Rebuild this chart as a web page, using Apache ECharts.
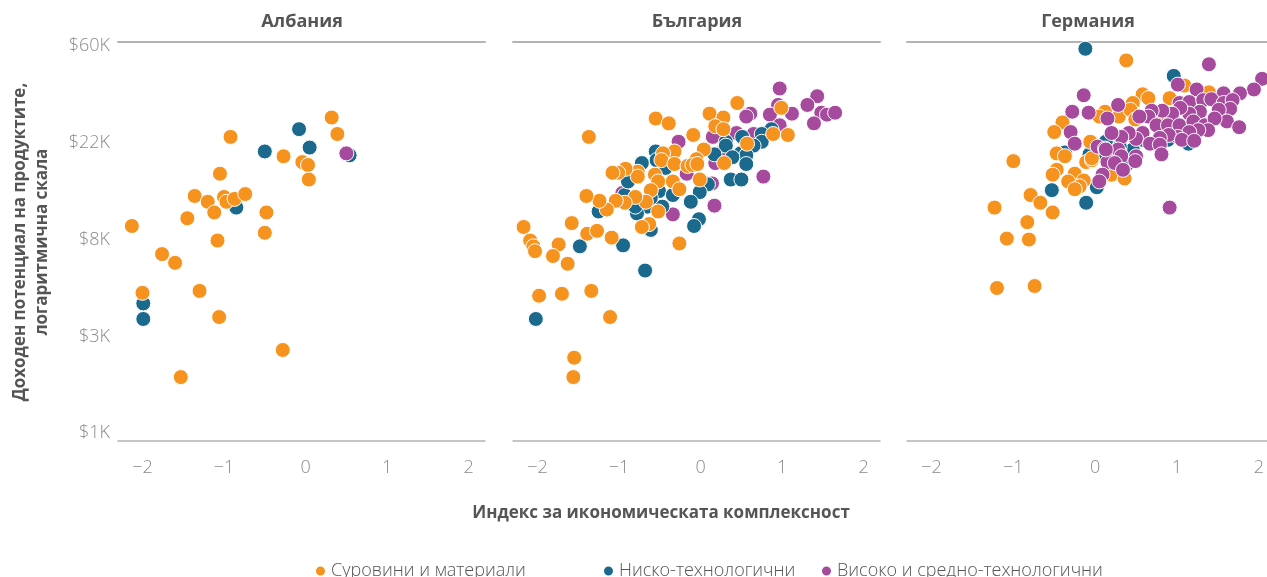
<!DOCTYPE html>
<html>
<head>
<meta charset="utf-8">
<script src="https://cdn.jsdelivr.net/npm/echarts@6/dist/echarts.min.js"></script>
<style>
  html, body { margin: 0; padding: 0; background: #fff; }
  #chart { width: 1267px; height: 577px; }
</style>
</head>
<body>
<div id="chart"></div>
<script>
// [индекс на икономическата комплексност, ln(доходен потенциал в $)]
var panels = ['Албания', 'България', 'Германия']
var categories = ['Суровини и материали', 'Ниско-технологични', 'Високо и средно-технологични']
var xTicks = [-2, -1, 0, 1, 2]
var yTicks = [7, 8, 9, 10, 11]
var yTickLabels = ['$1K', '$3K', '$8K', '$22K', '$60K']

var albaniaRaw = [[-2.13, 9.14], [-1.76, 8.85], [-1.60, 8.76], [-2.00, 8.45], [-1.30, 8.47], [-1.06, 8.20],
  [-0.28, 7.86], [-1.53, 7.58], [-1.08, 8.99], [-1.45, 9.22], [-1.36, 9.45], [-1.20, 9.39], [-1.12, 9.28],
  [-1.05, 9.68], [-1.00, 9.44], [-0.97, 9.39], [-0.87, 9.42], [-0.74, 9.47], [-0.92, 10.06], [-0.48, 9.28],
  [-0.50, 9.07], [-0.27, 9.86], [-0.04, 9.80], [0.03, 9.77], [0.04, 9.62], [0.32, 10.26], [0.39, 10.09]]
var albaniaLow = [[-1.99, 8.34], [-1.99, 8.18], [-0.85, 9.33], [-0.50, 9.91], [-0.08, 10.14], [0.05, 9.95], [0.54, 9.87]]
var albaniaHigh = [[0.50, 9.89]]

var bulgariaRaw = [[0.45, 10.41], [0.11, 10.30], [0.28, 10.26], [-0.55, 10.25], [-0.39, 10.20], [0.18, 10.17],
  [0.28, 10.14], [0.99, 10.36], [1.07, 10.08], [0.89, 10.09], [0.57, 9.99], [-0.09, 10.08], [0.04, 9.93],
  [0.29, 9.79], [-0.32, 9.91], [-0.46, 9.89], [-0.48, 9.82], [-0.32, 9.78], [-0.05, 9.83], [-0.16, 9.76],
  [-0.10, 9.77], [-0.04, 9.78], [-0.01, 9.62], [-0.26, 8.96], [-0.56, 9.67], [-0.52, 9.60], [-0.61, 9.51],
  [-0.34, 9.60], [-0.26, 9.52], [-0.52, 9.29], [-0.67, 9.39], [-0.63, 9.16], [-0.72, 9.13], [-0.80, 9.44],
  [-0.93, 9.38], [-1.04, 9.40], [-1.15, 9.31], [-1.24, 9.40], [-1.40, 9.45], [-0.77, 9.70], [-0.77, 9.65],
  [-0.92, 9.73], [-1.01, 9.69], [-1.08, 9.69], [-1.37, 10.06], [-1.58, 9.17], [-1.39, 9.06], [-1.27, 9.09],
  [-1.09, 9.02], [-1.74, 8.95], [-2.17, 9.13], [-2.09, 8.99], [-2.05, 8.93], [-2.03, 8.88], [-1.81, 8.83],
  [-1.63, 8.75], [-1.98, 8.42], [-1.70, 8.44], [-1.34, 8.47], [-1.11, 8.20], [-1.55, 7.78], [-1.56, 7.58]]
var bulgariaLow = [[0.87, 10.14], [0.75, 10.09], [0.75, 10.01], [0.65, 9.97], [0.51, 10.06], [0.31, 10.01],
  [0.31, 9.97], [0.17, 9.88], [0.49, 9.89], [0.56, 9.87], [0.39, 9.85], [0.56, 9.78], [0.37, 9.62], [0.50, 9.62],
  [-0.55, 9.91], [-0.54, 9.82], [-0.43, 9.74], [0.09, 9.57], [-0.01, 9.49], [-0.12, 9.39], [-0.02, 9.21],
  [-0.08, 9.14], [-0.72, 9.79], [-0.51, 9.50], [-0.34, 9.46], [-0.47, 9.34], [-0.65, 9.34], [-0.61, 9.43],
  [-0.61, 9.10], [-0.78, 9.27], [-0.80, 9.34], [-0.93, 9.46], [-1.25, 9.29], [-0.89, 9.60], [-1.48, 8.93],
  [-0.95, 8.94], [-0.68, 8.68], [-2.02, 8.18]]
var bulgariaHigh = [[0.97, 10.56], [1.43, 10.48], [1.31, 10.39], [1.48, 10.31], [1.55, 10.29], [1.65, 10.31],
  [1.39, 10.20], [1.12, 10.30], [0.95, 10.39], [0.85, 10.29], [0.61, 10.30], [0.56, 10.27], [0.97, 10.18],
  [0.65, 10.09], [0.44, 10.10], [0.15, 10.06], [0.27, 9.91], [0.18, 9.79], [0.77, 9.65], [-0.27, 10.01],
  [-0.17, 9.68], [0.14, 9.58], [0.17, 9.35], [-0.34, 9.26], [-0.96, 9.48]]

var germanyRaw = [[0.38, 10.85], [1.09, 10.59], [1.39, 10.52], [0.58, 10.50], [0.65, 10.46], [0.46, 10.41],
  [0.91, 10.46], [0.12, 10.32], [0.05, 10.27], [0.29, 10.27], [0.43, 10.34], [0.49, 10.24], [-0.40, 10.21],
  [-0.50, 10.11], [-0.06, 10.01], [-0.47, 9.89], [-0.37, 9.86], [-1.00, 9.81], [-0.11, 9.80], [-0.04, 9.82],
  [-0.47, 9.72], [-0.52, 9.67], [-0.25, 9.68], [-0.33, 9.60], [-0.14, 9.61], [-0.19, 9.55], [-0.25, 9.52],
  [0.20, 9.67], [0.36, 9.63], [-0.79, 9.46], [-0.67, 9.38], [-0.52, 9.28], [-1.23, 9.33], [-0.83, 9.18],
  [-1.08, 9.01], [-0.81, 9.00], [-1.20, 8.50], [-0.74, 8.52], [-0.04, 9.84], [0.80, 10.20], [1.20, 10.05],
  [0.30, 9.90]]
var germanyLow = [[-0.12, 10.97], [0.96, 10.69], [-0.53, 9.51], [-0.11, 9.38], [0.02, 9.54], [0.13, 10.01],
  [-0.07, 9.88], [0.13, 9.85], [-0.37, 9.90], [0.46, 9.93], [0.58, 10.03], [0.89, 10.03], [1.14, 9.99],
  [0.30, 9.96], [0.38, 9.77], [0.20, 9.72]]
var germanyHigh = [[1.39, 10.81], [2.04, 10.66], [1.94, 10.55], [1.77, 10.51], [1.57, 10.51], [1.01, 10.60],
  [1.24, 10.55], [-0.14, 10.49], [0.28, 10.39], [-0.28, 10.32], [-0.08, 10.31], [0.15, 10.25], [-0.30, 10.11],
  [-0.25, 9.99], [0.03, 9.96], [0.12, 9.94], [0.15, 9.80], [1.03, 10.41], [1.15, 10.42], [1.32, 10.44],
  [1.42, 10.45], [1.57, 10.41], [1.68, 10.44], [1.65, 10.35], [1.51, 10.34], [1.61, 10.22], [1.76, 10.16],
  [1.28, 10.32], [1.15, 10.30], [1.04, 10.36], [0.94, 10.30], [0.82, 10.33], [0.69, 10.33], [0.65, 10.27],
  [0.54, 10.27], [0.75, 10.18], [0.89, 10.18], [1.03, 10.18], [1.20, 10.22], [1.34, 10.18], [1.46, 10.25],
  [1.38, 10.13], [1.26, 10.13], [1.15, 10.11], [1.01, 10.06], [0.90, 10.08], [0.79, 10.05], [0.58, 10.10],
  [0.50, 10.04], [0.41, 10.10], [0.32, 10.06], [0.20, 10.10], [0.28, 9.93], [0.32, 9.86], [0.50, 9.86],
  [0.67, 9.99], [0.79, 9.98], [1.06, 10.03], [1.21, 10.02], [0.13, 9.93], [0.24, 9.79], [0.34, 9.72],
  [0.81, 9.88], [0.09, 9.67], [0.05, 9.60], [0.49, 9.81], [0.91, 9.33]]

var panelData = [
  [albaniaRaw, albaniaLow, albaniaHigh],
  [bulgariaRaw, bulgariaLow, bulgariaHigh],
  [germanyRaw, germanyLow, germanyHigh]
]
// кой слой е отгоре, по панел
var panelZ = [[2, 1, 3], [3, 2, 1], [2, 1, 3]]

var colors = ['#f6921e', '#1b6a8e', '#a64a9e']
var gridLeft = [118, 513, 907]
var gridRight = [782, 387, 0]
// третият панел е отрязан от десния край на картинката
var xMax = [2.2, 2.2, 2.1]
var legendLeft = [309, 597, 815]
var textColor = '#555'
var tickColor = '#8a8a8a'
var lineColor = '#b3b3b3'
var lightFont = 'Open Sans'

var chart = echarts.init(document.getElementById('chart'))

var grids = []
var xAxes = []
var yAxes = []
var series = []
var graphics = []

panels.forEach(function (name, i) {
  grids.push({left: gridLeft[i], right: gridRight[i], top: 42, height: 399})
  xAxes.push({
    type: 'value',
    gridIndex: i,
    min: -2.3,
    max: xMax[i],
    axisLine: {show: true, onZero: false, lineStyle: {color: lineColor, width: 1.5}},
    axisTick: {show: false},
    splitLine: {show: false},
    axisLabel: {
      customValues: xTicks,
      margin: 18,
      color: tickColor,
      fontSize: 18,
      fontWeight: 300,
      fontFamily: lightFont,
      formatter: function (v) { return v < 0 ? '\u2212' + (-v) : String(v) }
    }
  })
  // горната рамка на панела
  xAxes.push({
    type: 'value',
    gridIndex: i,
    position: 'top',
    min: -2.3,
    max: xMax[i],
    axisLine: {show: true, onZero: false, lineStyle: {color: lineColor, width: 2}},
    axisTick: {show: false},
    splitLine: {show: false},
    axisLabel: {show: false}
  })
  yAxes.push({
    type: 'value',
    gridIndex: i,
    min: 6.92,
    max: 11.04,
    axisLine: {show: false},
    axisTick: {show: false},
    splitLine: {show: false},
    axisLabel: {
      show: i === 0,
      customValues: yTicks,
      margin: 8,
      color: tickColor,
      fontSize: 18,
      fontWeight: 300,
      fontFamily: lightFont,
      formatter: function (v) { return yTickLabels[yTicks.indexOf(Math.round(v))] }
    }
  })
  categories.forEach(function (cat, j) {
    series.push({
      name: cat,
      type: 'scatter',
      xAxisIndex: i * 2,
      yAxisIndex: i,
      z: panelZ[i][j] + 2,
      symbolSize: 15,
      itemStyle: {color: colors[j], borderColor: '#fff', borderWidth: 1, opacity: 1},
      data: panelData[i][j]
    })
  })
  graphics.push({
    type: 'text',
    x: i === 2 ? 1088 : gridLeft[i] + 184,
    y: 22,
    style: {
      text: name,
      align: 'center',
      verticalAlign: 'middle',
      fill: textColor,
      font: 'bold 18px "Open Sans"'
    }
  })
})

graphics.push({
  type: 'text',
  x: 31,
  y: 242,
  rotation: Math.PI / 2,
  style: {
    text: 'Доходен потенциал на продуктите,\nлогаритмична скала',
    align: 'center',
    verticalAlign: 'middle',
    lineHeight: 22,
    fill: textColor,
    font: 'bold 17px "Open Sans"'
  }
})
graphics.push({
  type: 'text',
  x: 661,
  y: 513,
  style: {
    text: 'Индекс за икономическата комплексност',
    align: 'center',
    verticalAlign: 'middle',
    fill: textColor,
    font: 'bold 17px "Open Sans"'
  }
})

// по една легенда за всяка категория, за да стоят както в оригинала
var legends = categories.map(function (cat, j) {
  return {
    data: [cat],
    left: legendLeft[j],
    top: 557,
    icon: 'circle',
    itemWidth: 11,
    itemHeight: 11,
    itemGap: 6,
    textStyle: {color: textColor, fontSize: 18, fontWeight: 300, fontFamily: lightFont}
  }
})

var option = {
  animation: false,
  color: colors,
  grid: grids,
  xAxis: xAxes,
  yAxis: yAxes,
  series: series,
  graphic: graphics,
  legend: legends
}
chart.setOption(option)
</script>
</body>
</html>
